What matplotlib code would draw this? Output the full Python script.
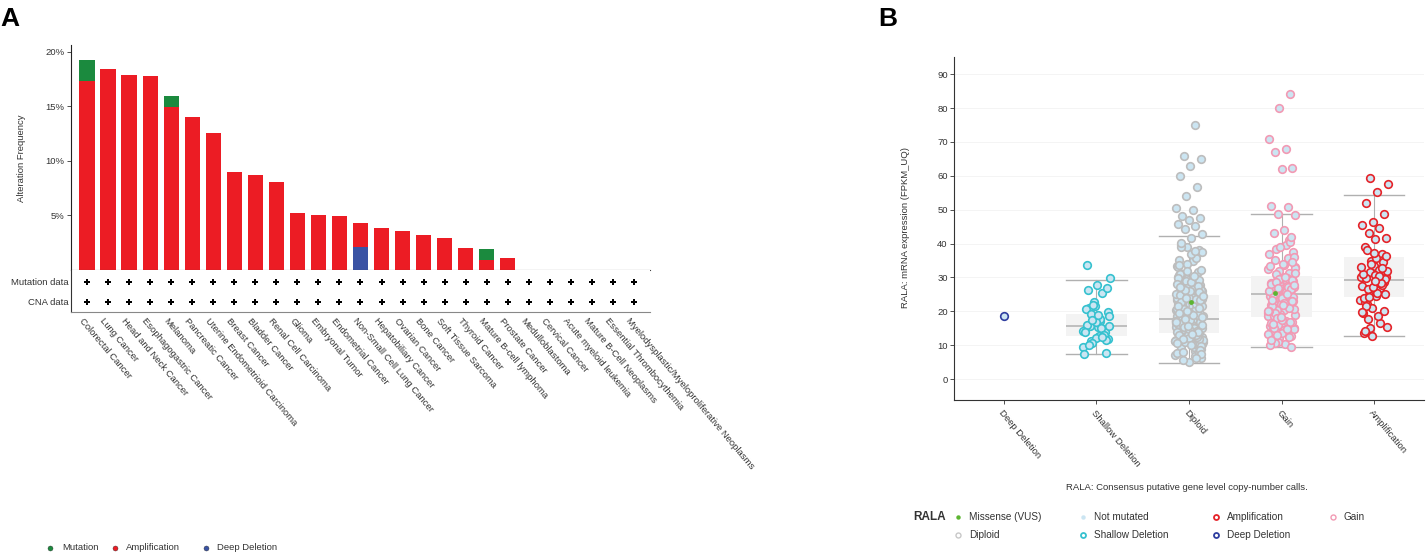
import numpy as np
import matplotlib.pyplot as plt
from matplotlib.transforms import ScaledTranslation

plt.rcParams['font.family'] = ['Liberation Sans', 'DejaVu Sans']

# ---------------- panel A data (alteration frequency, %) ----------------
cancer_types = ['Colorectal Cancer', 'Lung Cancer', 'Head and Neck Cancer', 'Esophagogastric Cancer',
                'Melanoma', 'Pancreatic Cancer', 'Uterine Endometrioid Carcinoma', 'Breast Cancer',
                'Bladder Cancer', 'Renal Cell Carcinoma', 'Glioma', 'Embryonal Tumor', 'Endometrial Cancer',
                'Non-Small Cell Lung Cancer', 'Hepatobiliary Cancer', 'Ovarian Cancer', 'Bone Cancer',
                'Soft Tissue Sarcoma', 'Thyroid Cancer', 'Mature B-cell lymphoma', 'Prostate Cancer',
                'Medulloblastoma', 'Cervical Cancer', 'Acute myeloid leukemia', 'Mature B-Cell Neoplasms',
                'Essential Thrombocythemia', 'Myelodysplastic/Myeloproliferative Neoplasms']
amp_freq = [17.34, 18.44, 17.86, 17.80, 14.93, 13.97, 12.50, 8.99, 8.72, 8.04, 5.20, 5.02, 4.95,
            2.20, 3.88, 3.61, 3.24, 2.91, 2.05, 0.92, 1.07, 0, 0, 0, 0, 0, 0]
mut_freq = [1.90, 0, 0, 0, 0.97, 0, 0, 0, 0, 0, 0, 0, 0,
            0, 0, 0, 0, 0, 0, 0.98, 0, 0, 0, 0, 0, 0, 0]
del_freq = [0, 0, 0, 0, 0, 0, 0, 0, 0, 0, 0, 0, 0,
            2.11, 0, 0, 0, 0, 0, 0, 0, 0, 0, 0, 0, 0, 0]
yticks_a = [5, 10, 15, 20]
row_names = ['Mutation data', 'CNA data']

# ---------------- panel B data (RALA mRNA, FPKM_UQ) ----------------
cna_groups = ['Deep Deletion', 'Shallow Deletion', 'Diploid', 'Gain', 'Amplification']
deep_del_expr = [18.7]
shallow_expr = [16.1, 29.9, 12.6, 21.0, 7.8, 18.1, 14.5, 25.3, 11.1, 19.8, 15.4, 33.8, 13.3, 22.8,
                9.4, 17.2, 15.8, 27.0, 12.2, 20.7, 14.9, 10.6, 18.5, 16.5, 26.4, 13.9, 21.5, 7.4,
                15.1, 19.3, 11.8, 27.8, 16.0, 12.9, 22.0, 14.2, 17.8, 10.0, 11.5, 16.8, 14.0, 12.4,
                17.5, 15.6, 19.0]
diploid_expr = [12.4, 18.7, 27.3, 9.1, 15.6, 21.8, 33.4, 14.2, 19.9, 6.3, 24.5, 16.8, 11.7, 29.6, 17.3,
                13.5, 22.7, 38.2, 15.1, 20.6, 8.4, 16.2, 25.9, 12.9, 18.1, 31.5, 14.7, 23.3, 10.6, 19.4,
                27.9, 13.1, 17.7, 36.4, 21.2, 7.2, 15.9, 24.1, 11.3, 18.9, 30.2, 14.0, 20.1, 9.8, 16.5,
                26.6, 12.2, 22.4, 17.0, 34.8, 13.8, 19.2, 5.1, 15.3, 28.4, 11.0, 21.5, 16.9, 39.7, 14.5,
                18.4, 23.8, 10.2, 17.5, 32.3, 13.3, 20.9, 8.9, 15.0, 25.2, 12.6, 19.0, 29.1, 16.0, 22.0,
                6.8, 14.9, 37.5, 18.0, 11.9, 24.8, 15.4, 20.4, 9.5, 17.1, 27.0, 13.0, 21.0, 35.6, 16.3,
                10.9, 19.6, 31.0, 14.3, 23.0, 7.7, 18.3, 12.0, 26.2, 15.7, 20.3, 11.5, 28.8, 16.6, 13.6,
                22.9, 9.3, 17.9, 33.0, 14.8, 19.7, 10.4, 25.5, 16.1, 12.8, 38.9, 18.6, 21.4, 5.6, 15.2,
                17.4, 30.7, 13.9, 20.0, 11.1, 24.3, 16.4, 8.1, 19.3, 28.0, 14.1, 22.2, 12.3, 36.9, 17.8,
                10.0, 26.8, 15.5, 21.7, 13.4, 16.7, 21.3, 12.7, 19.1, 14.6, 23.6, 10.8, 17.6, 27.6, 13.2,
                20.8, 15.8, 25.0, 9.0, 18.2, 30.9, 14.4, 22.6, 11.6, 17.2, 19.5, 13.7, 24.0, 16.2, 10.5,
                21.9, 15.1, 28.6, 12.1, 18.8, 34.0, 14.0, 20.2, 7.9, 16.9, 26.0, 13.0, 23.5, 18.5, 11.4,
                15.9, 22.1, 11.8, 18.0, 29.9, 13.6, 20.5, 9.7, 16.3, 24.7, 12.5, 31.9, 17.1, 14.9, 21.1,
                8.6, 19.8, 35.1, 13.1, 26.4, 16.0, 10.3, 22.8, 18.9, 12.9, 28.2, 15.0, 20.7, 7.4, 17.5,
                33.7, 14.2, 23.9, 11.2, 19.0, 16.6, 25.8, 12.0, 21.6, 37.9, 15.4, 18.3, 9.9, 27.1, 13.8,
                20.0, 16.8, 30.4, 11.7, 23.2, 14.7, 19.4, 6.1, 17.7, 24.4, 13.3, 39.0, 21.0, 15.6, 10.7,
                75.1, 65.9, 65.1, 63.0, 59.9, 56.7, 54.1, 50.5, 49.9, 48.2, 47.6, 47.0, 45.7, 45.1, 44.4,
                42.8, 41.5, 40.3]
gain_expr = [26.1, 18.9, 33.7, 22.4, 12.8, 29.0, 24.6, 16.3, 38.5, 20.7, 27.4, 14.1, 31.2, 25.3, 19.5,
             10.2, 35.0, 23.1, 17.6, 28.3, 21.9, 30.5, 15.2, 26.8, 11.7, 24.0, 19.0, 36.8, 22.8, 13.9,
             28.9, 17.2, 25.7, 41.2, 20.1, 32.4, 16.0, 27.0, 9.6, 23.6, 18.2, 29.7, 24.9, 14.8, 34.1,
             21.3, 26.5, 12.1, 19.8, 39.6, 25.1, 16.7, 30.0, 22.0, 27.8, 11.0, 33.0, 20.4, 17.9, 26.3,
             23.4, 15.6, 28.6, 19.3, 37.4, 24.3, 13.2, 21.6, 31.8, 18.5, 25.9, 10.7, 29.3, 22.6, 16.4,
             35.7, 20.9, 27.2, 14.4, 24.7, 40.5, 19.1, 26.0, 17.0, 30.9, 23.0, 13.6, 28.1, 21.1, 15.9,
             32.8, 25.5, 18.7, 42.0, 22.2, 9.9, 27.6, 20.5, 36.1, 24.4, 21.5, 16.9, 29.5, 13.4, 25.8,
             19.6, 34.6, 23.8, 11.4, 27.3, 18.0, 31.4, 22.5, 15.3, 26.7, 38.9, 20.0, 14.7, 28.7, 24.2,
             17.4, 23.3, 12.5, 26.9, 20.2, 30.2, 15.0, 22.9, 18.4, 33.4, 25.0, 13.0, 27.9, 21.8, 16.1,
             84.3, 79.9, 70.8, 68.0, 66.9, 62.2, 62.0, 51.1, 50.8, 48.6, 48.4, 43.9, 43.2]
amp_expr = [59.3, 57.6, 55.2, 52.0, 48.6, 46.3, 45.5, 44.6, 43.0, 41.6, 41.4, 39.0,
            36.9, 34.8, 30.2, 25.6, 22.1, 28.7, 33.5, 19.4, 26.9, 31.6, 15.4, 24.4, 29.8, 35.2,
            21.0, 27.5, 32.3, 17.8, 25.0, 30.6, 13.5, 28.0, 34.1, 23.3, 29.1, 38.0, 20.2, 26.2,
            31.1, 16.4, 24.8, 30.0, 35.6, 22.7, 27.9, 12.8, 33.0, 18.6, 26.5, 29.5, 37.2, 23.9,
            28.4, 15.0, 31.9, 25.3, 21.6, 34.5, 27.2, 19.9, 30.4, 24.1, 36.3, 28.9, 14.2, 32.7]
# box statistics for Shallow Deletion, Diploid, Gain, Amplification
box_groups = ['Shallow Deletion', 'Diploid', 'Gain', 'Amplification']
box_lo = [7.3, 4.6, 9.4, 12.7]
box_q1 = [12.8, 13.5, 18.4, 24.1]
box_med = [15.8, 17.8, 25.0, 29.3]
box_q3 = [19.1, 24.8, 30.4, 35.9]
box_hi = [29.1, 42.3, 48.6, 54.2]
missense_groups = ['Diploid', 'Gain']
missense_expr = [22.6, 25.4]
yticks_b = list(range(0, 100, 10))

# colours
RED = '#ec1c24'
GREEN = '#1b8a3e'
BLUE = '#3a53a4'
NOT_MUT = '#cbe5f2'
cna_edge = {'Deep Deletion': '#2e3d9f', 'Shallow Deletion': '#36c1cf', 'Diploid': '#bdbdbd',
            'Gain': '#f29ab4', 'Amplification': '#e52329'}
MISSENSE = '#5cb531'
TXT = '#333333'
FS = 6.8

W, H = 1426, 553
fig = plt.figure(figsize=(W / 100, H / 100), dpi=100)


def px_axes(l, t, r, b):
    return fig.add_axes([l / W, 1 - b / H, (r - l) / W, (b - t) / H])


# overlay in pixel units for panel letters, labels and legends
ov = fig.add_axes([0, 0, 1, 1])
ov.set_xlim(0, W)
ov.set_ylim(H, 0)
ov.axis('off')

# ======================= Panel A =======================
n = len(cancer_types)
x = np.arange(n)
axA = px_axes(71, 45, 650, 270)
axA.bar(x, del_freq, width=0.72, color=BLUE, linewidth=0)
axA.bar(x, amp_freq, width=0.72, bottom=del_freq, color=RED, linewidth=0)
axA.bar(x, mut_freq, width=0.72, bottom=np.add(del_freq, amp_freq), color=GREEN, linewidth=0)
axA.set_xlim(-0.76, n - 1 + 0.76)
axA.set_ylim(0, 20.6)
axA.set_yticks(yticks_a, [f'{v}%' for v in yticks_a])
axA.tick_params(axis='x', bottom=False, labelbottom=False)
axA.tick_params(axis='y', length=3, width=0.6, labelsize=FS, colors=TXT, pad=1.5)
for s in ['top', 'right']:
    axA.spines[s].set_visible(False)
axA.spines['left'].set_color('#222222')
axA.spines['bottom'].set_color('#444444')
axA.spines['left'].set_linewidth(0.8)
axA.spines['bottom'].set_linewidth(0.8)

axT = px_axes(71, 270, 650, 312)
axT.set_xlim(-0.76, n - 1 + 0.76)
axT.set_ylim(0, 2)
row_y = [1.45, 0.5]
for yy in row_y:
    axT.plot(x, [yy] * n, 'P', ms=5, color='black', mew=0)
axT.set_yticks(row_y, row_names)
axT.tick_params(axis='y', length=0, labelsize=FS, colors=TXT, pad=2)
axT.set_xticks(x, cancer_types, rotation=-50, ha='left', va='top', rotation_mode='anchor')
axT.tick_params(axis='x', length=0, labelsize=FS, colors=TXT, pad=3)
for lbl in axT.get_xticklabels():
    lbl.set_transform(lbl.get_transform() + ScaledTranslation(-0.03, 0, fig.dpi_scale_trans))
for s in ['top', 'right']:
    axT.spines[s].set_visible(False)
axT.spines['left'].set_color('#333333')
axT.spines['bottom'].set_color('#888888')
axT.spines['left'].set_linewidth(0.8)
axT.spines['bottom'].set_linewidth(0.8)

ov.text(0, 26, 'A', fontsize=19, fontweight='bold', va='baseline', ha='left')
ov.text(22, 158, 'Alteration Frequency', rotation=90, ha='center', va='center', fontsize=FS, color=TXT)

# legend A
for mx, tx, col, name in [(50, 62, GREEN, 'Mutation'), (115, 126, RED, 'Amplification'),
                          (206, 217, BLUE, 'Deep Deletion')]:
    ov.plot(mx, 548, 'o', ms=3.6, color=col, mec='#333333', mew=0.3)
    ov.text(tx, 548, name, fontsize=FS, color=TXT, va='center', ha='left')

# ======================= Panel B =======================
axB = px_axes(954, 57, 1424, 400)
axB.set_xlim(-0.54, len(cna_groups) - 1 + 0.54)
axB.set_ylim(-6.2, 95.1)
axB.set_yticks(yticks_b)
axB.yaxis.grid(True, color='#f3f3f3', lw=0.6)
axB.set_axisbelow(True)

stats = []
for g, lo, q1, med, q3, hi in zip(box_groups, box_lo, box_q1, box_med, box_q3, box_hi):
    stats.append(dict(whislo=lo, q1=q1, med=med, q3=q3, whishi=hi, fliers=[], label=g))
axB.bxp(stats, positions=[cna_groups.index(g) for g in box_groups], widths=0.65,
        showfliers=False, patch_artist=True, manage_ticks=False,
        boxprops=dict(facecolor='#f3f3f3', edgecolor='none'),
        medianprops=dict(color='#b5b5b5', lw=1.2),
        whiskerprops=dict(color='#b0b0b0', lw=0.8),
        capprops=dict(color='#b0b0b0', lw=1.0),
        capwidths=0.65, zorder=1)


def jitter(k, width=0.15):
    idx = np.arange(k)
    return ((idx * 0.6180339887 + 0.37) % 1.0 - 0.5) * 2 * width


group_values = [deep_del_expr, shallow_expr, diploid_expr, gain_expr, amp_expr]
for i, (g, vals) in enumerate(zip(cna_groups, group_values)):
    xs = i + (jitter(len(vals)) if len(vals) > 1 else np.zeros(1))
    axB.scatter(xs, vals, s=30, facecolor=NOT_MUT, edgecolor=cna_edge[g], linewidth=1.2, zorder=3)

ms_offsets = [0.02, -0.07]
for g, v, off in zip(missense_groups, missense_expr, ms_offsets):
    axB.scatter(cna_groups.index(g) + off, v, s=12, color=MISSENSE, linewidth=0, zorder=4)

axB.set_xticks(range(len(cna_groups)), cna_groups, rotation=-50, ha='left', va='top',
               rotation_mode='anchor')
for lbl in axB.get_xticklabels():
    lbl.set_transform(lbl.get_transform() + ScaledTranslation(-0.04, 0, fig.dpi_scale_trans))
axB.tick_params(axis='both', length=3, width=0.6, labelsize=FS, colors=TXT, pad=1.5)
axB.tick_params(axis='x', pad=3)
for s in ['top', 'right']:
    axB.spines[s].set_visible(False)
for s in ['left', 'bottom']:
    axB.spines[s].set_color('#333333')
    axB.spines[s].set_linewidth(0.8)

ov.text(878, 26, 'B', fontsize=19, fontweight='bold', va='baseline', ha='left')
ov.text(906, 228, 'RALA: mRNA expression (FPKM_UQ)', rotation=90, ha='center', va='center',
        fontsize=FS, color=TXT)
ov.text(1187, 487, 'RALA: Consensus putative gene level copy-number calls.', ha='center',
        va='center', fontsize=FS, color=TXT)

# legend B
ov.text(913, 517, 'RALA', fontsize=8.5, fontweight='bold', color=TXT, va='center', ha='left')
legend_b = [
    (958, 517, dict(marker='o', ms=3.2, color=MISSENSE, mew=0), 'Missense (VUS)'),
    (958, 535, dict(marker='o', ms=3.6, mfc='white', mec='#c8c8c8', mew=1.0), 'Diploid'),
    (1083, 517, dict(marker='o', ms=3.2, color=NOT_MUT, mew=0), 'Not mutated'),
    (1083, 535, dict(marker='o', ms=3.6, mfc='white', mec=cna_edge['Shallow Deletion'], mew=1.3), 'Shallow Deletion'),
    (1216, 517, dict(marker='o', ms=3.6, mfc='white', mec=cna_edge['Amplification'], mew=1.3), 'Amplification'),
    (1216, 535, dict(marker='o', ms=3.6, mfc='white', mec=cna_edge['Deep Deletion'], mew=1.3), 'Deep Deletion'),
    (1333, 517, dict(marker='o', ms=3.6, mfc='white', mec=cna_edge['Gain'], mew=1.0), 'Gain'),
]
for mx, my, kw, name in legend_b:
    ov.plot(mx, my, linestyle='none', **kw)
    ov.text(mx + 11, my, name, fontsize=FS + 0.4, color=TXT, va='center', ha='left')

fig.savefig('out.png', dpi=100)
